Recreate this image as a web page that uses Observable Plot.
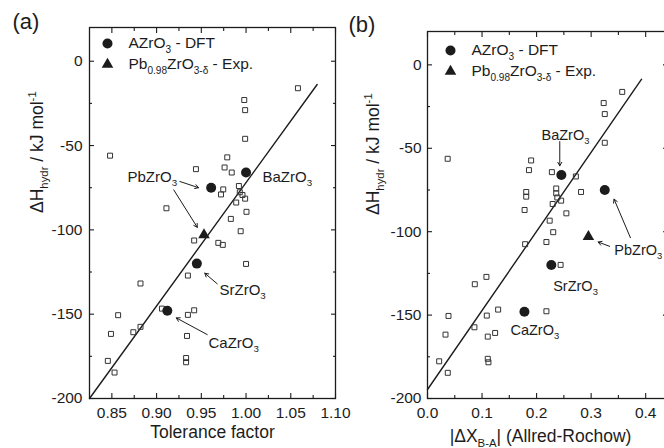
<!DOCTYPE html>
<html><head><meta charset="utf-8">
<script src="https://cdn.jsdelivr.net/npm/d3@7"></script>
<script src="https://cdn.jsdelivr.net/npm/@observablehq/plot@0.6"></script>
<style>
html,body{margin:0;padding:0;background:#fff;overflow:hidden;}
#wrap{position:relative;width:664px;height:448px;overflow:hidden;}
.panel{position:absolute;top:0;}
.panel svg{overflow:visible;max-width:none;background:transparent;}
</style></head><body>
<div id="wrap">
  <div id="pa" class="panel" style="left:0px;width:340px;"></div>
  <div id="pb" class="panel" style="left:332px;width:336px;"></div>
</div>
<script>
// ---------- data: panel (a) tolerance factor ----------
const tolSqX = [0.848,1.058,0.998,0.999,0.999,0.979,0.976,0.984,0.944,0.9745,0.972,0.992,0.993,0.996,0.999,0.989,1.0005,0.911,0.983,0.994,0.942,0.969,0.974,1.000,0.935,0.882,0.906,0.935,0.942,0.857,0.849,0.874,0.882,0.934,0.8455,0.853,0.933,0.933];
const tolSqY = [-56,-16,-23,-29,-46,-57,-63,-66,-64,-76,-79,-74,-77.7,-79.3,-81.5,-83.8,-89.3,-87.2,-93.5,-100.8,-106.3,-107.7,-108.9,-120.2,-127.1,-131.8,-146.7,-150.4,-147.7,-150.6,-161.7,-160.7,-157.5,-162.9,-177.7,-184.6,-176,-178.5];
const compounds = ["PbZrO_{3}","BaZrO_{3}","SrZrO_{3}","CaZrO_{3}"];
const dftTol = [0.961,1.000,0.945,0.912];
const dftH = [-75,-66,-120,-148];
const expTol = [0.953];
const expH = [-103];
const fitTolX = [0.825,1.0795];
const fitTolY = [-200,-13.8];

// ---------- data: panel (b) electronegativity difference ----------
const arSqX = [0.037,0.357,0.323,0.325,0.325,0.190,0.186,0.228,0.272,0.181,0.181,0.236,0.236,0.238,0.2815,0.245,0.2295,0.178,0.2546,0.224,0.2305,0.218,0.179,0.244,0.108,0.0867,0.1295,0.1087,0.0385,0.218,0.033,0.086,0.124,0.1105,0.0214,0.0372,0.1105,0.1117];
const arSqY = [-56.3,-16.2,-22.9,-29.5,-46.7,-57.3,-63.1,-64.3,-66.9,-76.2,-79,-74.1,-77,-79.5,-76.2,-81.4,-83.4,-87,-89,-93.4,-100.3,-106.2,-107.5,-119.9,-127.1,-131.5,-146.7,-150.3,-150.5,-147.7,-161.7,-157.3,-160.7,-162.9,-177.7,-184.6,-176.2,-178.3];
const dftAR = [0.325,0.2454,0.227,0.1777];
const expAR = [0.295];
const fitARX = [0,0.3925];
const fitARY = [-194.6,-8.6];

// ---------- axes / text ----------
const tolMajor = [0.85,0.90,0.95,1.00,1.05,1.10];
const tolMinor = [0.875,0.925,0.975,1.025,1.075];
const arMajor = [0.0,0.1,0.2,0.3,0.4];
const arMinor = [0.05,0.15,0.25,0.35];
const hMajor = [0,-50,-100,-150,-200];
const hMinor = [-25,-75,-125,-175];
const yTitle = "ΔH_{hydr} / kJ mol^{-1}";
const xTitleA = "Tolerance factor";
const xTitleB = "|ΔX_{B-A}| (Allred-Rochow)";
const legendLabels = ["AZrO_{3} - DFT","Pb_{0.98}ZrO_{3-δ} - Exp."];

// annotations (data coordinates)
const annoA = {text: compounds, x: [0.8675,1.0184,0.9703,0.958], y: [-68.5,-68.5,-135.5,-167]};
const arrowsA = {x1: [0.926,0.9192,0.9678,0.9566], y1: [-71.3,-76.3,-132,-162.1], x2: [0.9469,0.9455,0.9539,0.922], y2: [-75,-98.5,-125.7,-152.2]};
const annoB = {text: ["PbZrO_{3}","BaZrO_{3}","SrZrO_{3}","CaZrO_{3}"], x: [0.3425,0.209,0.2304,0.152], y: [-111,-42.5,-132.5,-159]};
const arrowsB = {x1: [0.334,0.372,0.2425], y1: [-108.8,-103.6,-46], x2: [0.3128,0.342,0.2425], y2: [-106.2,-80.5,-60.5]};

const FONT = '"Liberation Sans", Arial, Helvetica, sans-serif';
const INK = "#1c1c1c";
const idx = a => d3.range(a.length);

function richify(svg) {
  svg.querySelectorAll("text").forEach(t => {
    const s = t.textContent;
    if (!/[_^]\{/.test(s)) return;
    const fs = parseFloat(getComputedStyle(t).fontSize);
    while (t.firstChild) t.removeChild(t.firstChild);
    const re = /([_^])\{([^}]*)\}/g;
    let last = 0, m, shift = 0;
    const add = (str, kind) => {
      if (!str) return;
      const ts = document.createElementNS("http://www.w3.org/2000/svg", "tspan");
      const target = kind === "_" ? fs * 0.28 : kind === "^" ? -fs * 0.42 : 0;
      const dy = target - shift;
      if (dy) ts.setAttribute("dy", dy);
      shift = target;
      if (kind) ts.setAttribute("font-size", fs * 0.65);
      ts.textContent = str;
      t.appendChild(ts);
    };
    while ((m = re.exec(s))) { add(s.slice(last, m.index), null); add(m[2], m[1]); last = re.lastIndex; }
    add(s.slice(last), null);
  });
}

function axes(xMajor, xMinor, xFmt, yPad) {
  const blank = () => "";
  const tk = {tickFormat: blank, label: null, stroke: INK, strokeWidth: 1.1};
  return [
    Plot.axisX({anchor: "bottom", ticks: xMajor, tickSize: 0, tickPadding: 8, tickFormat: xFmt, label: null, fontSize: 15.5, fill: INK}),
    Plot.axisX({anchor: "bottom", ticks: xMajor, tickSize: 5, insetBottom: 5, ...tk}),
    Plot.axisX({anchor: "bottom", ticks: xMinor, tickSize: 3, insetBottom: 3, ...tk}),
    Plot.axisX({anchor: "top", ticks: xMajor, tickSize: 5, insetTop: 5, ...tk}),
    Plot.axisX({anchor: "top", ticks: xMinor, tickSize: 3, insetTop: 3, ...tk}),
    Plot.axisY({anchor: "left", ticks: hMajor, tickSize: 0, tickPadding: yPad, tickFormat: d => String(d), label: null, fontSize: 15.5, fill: INK}),
    Plot.axisY({anchor: "left", ticks: hMajor, tickSize: 5, insetLeft: 5, ...tk}),
    Plot.axisY({anchor: "left", ticks: hMinor, tickSize: 3, insetLeft: 3, ...tk}),
    Plot.axisY({anchor: "right", ticks: hMajor, tickSize: 5, insetRight: 5, ...tk}),
    Plot.axisY({anchor: "right", ticks: hMinor, tickSize: 3, insetRight: 3, ...tk})
  ];
}

function legend(dx0, dy0) {
  return [
    Plot.dot([0], {frameAnchor: "top-left", dx: dx0, dy: dy0, r: 5, fill: INK, symbol: "circle"}),
    Plot.dot([0], {frameAnchor: "top-left", dx: dx0, dy: dy0 + 21, r: 4.3, fill: INK, symbol: "triangle"}),
    Plot.text([legendLabels[0]], {frameAnchor: "top-left", dx: dx0 + 21, dy: dy0, textAnchor: "start", lineAnchor: "middle", fontSize: 15.5, fill: INK}),
    Plot.text([legendLabels[1]], {frameAnchor: "top-left", dx: dx0 + 21, dy: dy0 + 21, textAnchor: "start", lineAnchor: "middle", fontSize: 15.5, fill: INK})
  ];
}

function panel(o) {
  const svg = Plot.plot({
    width: o.width, height: 448,
    marginLeft: o.ml, marginRight: o.mr, marginTop: o.mt, marginBottom: 50,
    style: {fontFamily: FONT, background: "transparent", overflow: "visible", color: INK},
    x: {domain: o.xDomain},
    y: {domain: [-200, 20]},
    marks: [
      ...axes(o.xMajor, o.xMinor, o.xFmt, o.yPad),
      Plot.line(idx(o.fitX), {x: i => o.fitX[i], y: i => o.fitY[i], stroke: INK, strokeWidth: 1.4}),
      Plot.dot(idx(o.sqX), {x: i => o.sqX[i], y: i => o.sqY[i], symbol: "square", r: 2.8, stroke: "#333", strokeWidth: 1, fill: "none"}),
      Plot.dot(idx(o.dftX), {x: i => o.dftX[i], y: i => dftH[i], r: 5, fill: INK, symbol: "circle"}),
      Plot.dot(idx(o.expX), {x: i => o.expX[i], y: i => expH[i], r: 4.3, fill: INK, symbol: "triangle"}),
      Plot.arrow(idx(o.arrows.x1), {x1: i => o.arrows.x1[i], y1: i => o.arrows.y1[i], x2: i => o.arrows.x2[i], y2: i => o.arrows.y2[i], stroke: INK, strokeWidth: 1, headLength: 6}),
      Plot.text(idx(o.anno.text), {x: i => o.anno.x[i], y: i => o.anno.y[i], text: i => o.anno.text[i], textAnchor: "start", lineAnchor: "middle", fontSize: o.annoFs, fill: INK}),
      ...legend(o.legDx, o.legDy),
      Plot.frame({stroke: INK, strokeWidth: 1.3}),
      Plot.text([yTitle], {frameAnchor: "left", dx: -o.yTitleOff, rotate: -90, lineAnchor: "middle", fontSize: 17.5, fill: INK}),
      Plot.text([o.xTitle], {frameAnchor: "bottom", dx: o.xTitleDx, dy: o.xTitleDy, lineAnchor: "middle", fontSize: 17.5, fill: INK}),
      Plot.text([o.tag], {frameAnchor: "top-left", dx: o.tagDx, dy: o.tagDy, textAnchor: "start", lineAnchor: "top", fontSize: 22, fill: INK})
    ]
  });
  document.getElementById(o.el).appendChild(svg);
  richify(svg);
}

panel({el: "pa", width: 340, ml: 89, mr: 5, mt: 27, xDomain: [0.825, 1.10], xMajor: tolMajor, xMinor: tolMinor, xFmt: d3.format(".2f"), yPad: 7,
  fitX: fitTolX, fitY: fitTolY, sqX: tolSqX, sqY: tolSqY, dftX: dftTol, expX: expTol, arrows: arrowsA, anno: annoA, annoFs: 15,
  legDx: 18, legDy: 16, yTitleOff: 52, xTitle: xTitleA, xTitleDx: 0, xTitleDy: 34, tag: "(a)", tagDx: -77, tagDy: -14});
panel({el: "pb", width: 336, ml: 95, mr: 1, mt: 31, xDomain: [0, 0.44], xMajor: arMajor, xMinor: arMinor, xFmt: d3.format(".1f"), yPad: 6,
  fitX: fitARX, fitY: fitARY, sqX: arSqX, sqY: arSqY, dftX: dftAR, expX: expAR, arrows: arrowsB, anno: annoB, annoFs: 14.5,
  legDx: 23, legDy: 19, yTitleOff: 54, xTitle: xTitleB, xTitleDx: -7, xTitleDy: 38, tag: "(b)", tagDx: -79, tagDy: -15});
</script>
</body></html>
